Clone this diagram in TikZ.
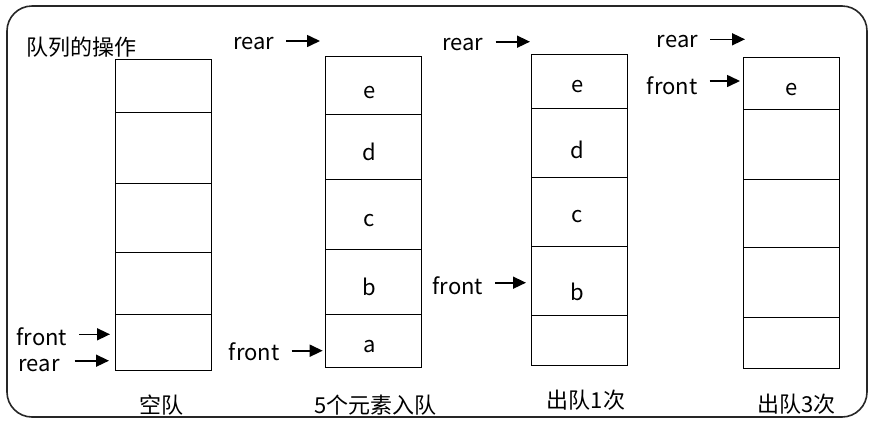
\documentclass[tikz,border=0pt]{standalone}
\usepackage{fontspec}
\setmainfont{Noto Sans CJK SC}
\usetikzlibrary{arrows.meta}
\begin{document}
\begin{tikzpicture}[x=1pt,y=-1pt,
  txt/.style={inner sep=0pt, font=\fontsize{22}{26}\selectfont},
  ptrlbl/.style={txt, inner xsep=12pt},
  cell/.style={draw, line width=1.3pt, anchor=north west, minimum width=96pt, inner sep=0pt},
  ptr/.style={line width=1.6pt, -{Triangle[length=13pt,width=12pt]}},
  frame/.style={draw=black!85, line width=1.6pt, rounded corners=25pt}]
\useasboundingbox (0,0) rectangle (873,424);
\draw[frame] (7,6) rectangle (867,417);
\node[txt] (title) at (81.7,46.7) {队列的操作};

% column 1: empty queue
\node[cell, minimum height=53pt] (c1a) at (115,59) {};
\node[cell, minimum height=71pt] (c1b) at (115,112) {};
\node[cell, minimum height=69pt] (c1c) at (115,183) {};
\node[cell, minimum height=62pt] (c1d) at (115,252) {};
\node[cell, minimum height=56pt] (c1e) at (115,314) {};
\node[ptrlbl] (f1) at (42,336.7) {front};
\node[ptrlbl] (r1) at (39,366) {rear};
\coordinate (tf1) at (110,334.3);
\coordinate (tr1) at (109,360.7);
\draw[ptr] (f1.east |- tf1) -- (tf1);
\draw[ptr] ([xshift=3pt]r1.east |- tr1) -- (tr1);
\node[txt] (l1) at (161,405) {空队};

% column 2: five elements enqueued
\node[cell, minimum height=58pt] (c2a) at (325,56) {};
\node[cell, minimum height=65pt] (c2b) at (325,114) {};
\node[cell, minimum height=70pt] (c2c) at (325,179) {};
\node[cell, minimum height=65pt] (c2d) at (325,249) {};
\node[cell, minimum height=53pt] (c2e) at (325,314) {};
\node[txt] (e2) at (369.3,93) {e};
\node[txt] (d2) at (369.3,151.7) {d};
\node[txt] (cc2) at (369.3,221) {c};
\node[txt] (b2) at (369.3,286.7) {b};
\node[txt] (a2) at (369.3,346.7) {a};
\node[ptrlbl] (r2) at (253.7,43.3) {rear};
\node[ptrlbl] (f2) at (254.2,351.7) {front};
\coordinate (tr2) at (320,41);
\coordinate (tf2) at (322.7,350.7);
\draw[ptr] (r2.east |- tr2) -- (tr2);
\draw[ptr] (f2.east |- tf2) -- (tf2);
\node[txt] (l2) at (375.8,405) {5个元素入队};

% column 3: dequeued once
\node[cell, minimum height=54pt] (c3a) at (531,54) {};
\node[cell, minimum height=69pt] (c3b) at (531,108) {};
\node[cell, minimum height=69pt] (c3c) at (531,177) {};
\node[cell, minimum height=69pt] (c3d) at (531,246) {};
\node[cell, minimum height=50pt] (c3e) at (531,315) {};
\node[txt] (e3) at (577.3,86.7) {e};
\node[txt] (d3) at (577.3,150) {d};
\node[txt] (cc3) at (577.3,216.7) {c};
\node[txt] (b3) at (577.3,291.7) {b};
\node[ptrlbl] (r3) at (462.9,45) {rear};
\node[ptrlbl] (f3) at (457.9,286) {front};
\coordinate (tr3) at (530,41.7);
\coordinate (tf3) at (526,282.7);
\draw[ptr] (r3.east |- tr3) -- (tr3);
\draw[ptr] (f3.east |- tf3) -- (tf3);
\node[txt] (l3) at (585.9,400) {出队1次};

% column 4: dequeued three times
\node[cell, minimum height=52pt] (c4a) at (743,57) {};
\node[cell, minimum height=70pt] (c4b) at (743,109) {};
\node[cell, minimum height=68pt] (c4c) at (743,179) {};
\node[cell, minimum height=70pt] (c4d) at (743,247) {};
\node[cell, minimum height=51pt] (c4e) at (743,317) {};
\node[txt] (e4) at (791.7,89.3) {e};
\node[ptrlbl] (r4) at (677.5,41.7) {rear};
\node[ptrlbl] (f4) at (672.2,86) {front};
\coordinate (tr4) at (745,39.3);
\coordinate (tf4) at (740,81);
\draw[ptr] (r4.east |- tr4) -- (tr4);
\draw[ptr] (f4.east |- tf4) -- (tf4);
\node[txt] (l4) at (796.6,404) {出队3次};
\end{tikzpicture}
\end{document}
